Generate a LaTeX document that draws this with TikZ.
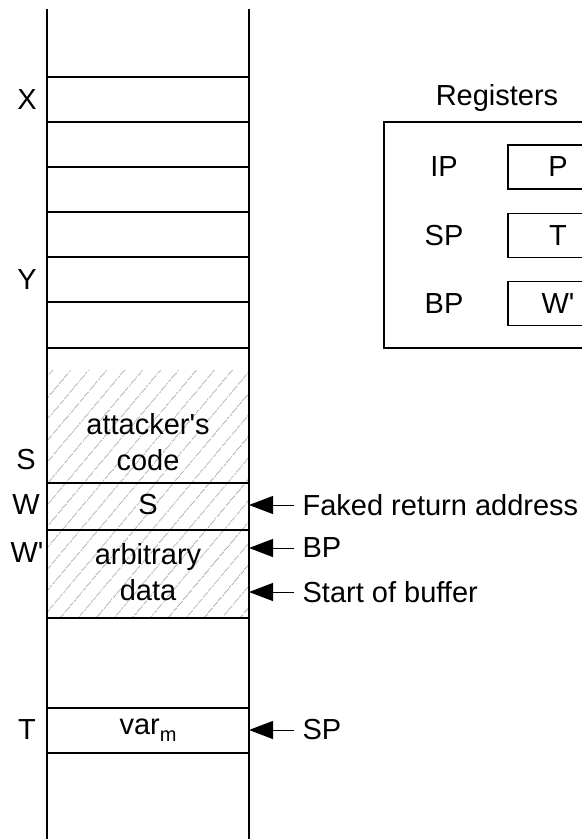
\documentclass[tikz,border=0pt]{standalone}
\usepackage{fontspec}
\setmainfont{Liberation Sans}[Ligatures=TeXOff]
\usetikzlibrary{positioning, arrows.meta, patterns.meta}
\tikzset{
  txt/.style={font=\fontsize{14.5}{18}\selectfont, inner sep=0pt, align=center},
  reg box/.style={txt, draw, minimum width=50pt, minimum height=22pt},
  ptr text/.style={txt, anchor=west, inner xsep=4pt},
  ptr/.style={-{Triangle[length=12pt,width=9pt]}, line width=0.5pt},
}
\newcommand{\lowsub}[1]{\raisebox{-3.5pt}{\fontsize{10}{10}\selectfont #1}}

\begin{document}
\begin{tikzpicture}[x=0.5pt, y=-0.5pt, line width=0.6pt]
        \clip (0,0) rectangle (582,839);
        % Stack
        \fill[pattern={Lines[angle=50,distance=6.9pt,line width=0.5pt]}, pattern color=black!30]
            (47,370) rectangle (249,618);
        \draw (47,9) coordinate (colL) -- (47,850);
        \draw (249,9) coordinate (colR) -- (249,850);
        \foreach \y in {77,122,167,212,257,302,348,483,530,618,708,753}
            \draw (47,\y) -- (249,\y);
        % Addresses
        \node[txt] (addrX) at (27,100) {X};
        \node[txt] (addrY) at (27,280) {Y};
        \node[txt] (addrS) at (26,460) {S};
        \node[txt] (addrW) at (26,505) {W};
        \node[txt] (addrWp) at (27,553) {W'};
        \node[txt] (addrT) at (27,730) {T};
        % Contents
        \node[txt] (code) at (148,442) {attacker's\\code};
        \node[txt] (ret) at (148,505) {S};
        \node[txt] (buf) at (148,572) {arbitrary\\data};
        \node[txt] (var) at (148,730) {var\lowsub{m}};
        % Pointers
        \node[ptr text] (fake) at (294,505) {Faked return address};
        \node[ptr text] (bpptr) at (294,548) {BP};
        \node[ptr text] (start) at (294,592) {Start of buffer};
        \node[ptr text] (spptr) at (294,730) {SP};
        \foreach \p in {fake,bpptr,start,spptr}
            \draw[ptr] (\p.west) -- (\p.west -| colR);
        % Registers
        \node[txt] (regs) at (497,98) {Registers};
        \draw (384,122) rectangle (640,348);
        \node[reg box] (ipv) at (558,167) {P};
        \node[reg box, below=11.5pt of ipv] (spv) {T};
        \node[reg box, below=11.5pt of spv] (bpv) {W'};
        \node[txt] (ip) at (444,167) {IP};
        \node[txt] (sp) at (ip |- spv) {SP};
        \node[txt] (bp) at (ip |- bpv) {BP};
    \end{tikzpicture}
\end{document}
